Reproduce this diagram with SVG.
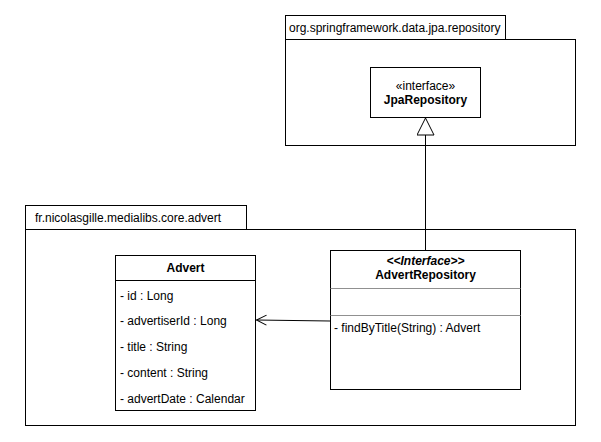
<svg xmlns="http://www.w3.org/2000/svg" width="601" height="442" viewBox="0 0 601 442">
<defs>
<style>
.box{fill:#fff;stroke:#000;stroke-width:1}
.sep{stroke:#909090;stroke-width:1;fill:none}
.t{font-family:"Liberation Sans",Arial,sans-serif;font-size:12px;fill:#000}
.b{font-weight:bold}
.c{text-anchor:middle}
.edge{stroke:#000;stroke-width:1;fill:none}
</style>
<marker id="open" markerWidth="12" markerHeight="12" refX="11" refY="6" orient="auto" markerUnits="userSpaceOnUse">
<path d="M1,1 L11,6 L1,11" fill="none" stroke="#000" stroke-width="1"/>
</marker>
<marker id="tri" markerWidth="20" markerHeight="20" refX="18" refY="9" orient="auto" markerUnits="userSpaceOnUse">
<path d="M18,9 L1,0.5 L1,17.5 Z" fill="#fff" stroke="#000" stroke-width="1"/>
</marker>
</defs>
<rect width="601" height="442" fill="#fff"/>
<g id="pkg-jpa">
<rect class="box" x="285.5" y="15.5" width="220" height="24"/>
<rect class="box" x="285.5" y="39.5" width="290" height="106"/>
<text class="t" x="289" y="31.5">org.springframework.data.jpa.repository</text>
</g>
<g id="pkg-advert">
<rect class="box" x="25.5" y="205.5" width="221" height="24"/>
<rect class="box" x="25.5" y="229.5" width="550" height="196"/>
<text class="t" x="35" y="221.5">fr.nicolasgille.medialibs.core.advert</text>
</g>
<g id="JpaRepository">
<rect class="box" x="370.5" y="67.5" width="110" height="50"/>
<text class="t c" x="425.5" y="90">«interface»</text>
<text class="t c b" x="425.5" y="104">JpaRepository</text>
</g>
<g id="Advert">
<rect class="box" x="115.5" y="255.5" width="140" height="155"/>
<line class="edge" x1="115.5" y1="280.5" x2="255.5" y2="280.5"/>
<text class="t c b" x="185.5" y="272">Advert</text>
<text class="t" x="120" y="300">- id : Long</text>
<text class="t" x="120" y="325">- advertiserId : Long</text>
<text class="t" x="120" y="351">- title : String</text>
<text class="t" x="120" y="377">- content : String</text>
<text class="t" x="120" y="403">- advertDate : Calendar</text>
</g>
<g id="AdvertRepository">
<rect class="box" x="330.5" y="250.5" width="190" height="139"/>
<line class="sep" x1="330.5" y1="288.5" x2="520.5" y2="288.5"/>
<line class="sep" x1="330.5" y1="315.5" x2="520.5" y2="315.5"/>
<text class="t c b" x="425.5" y="265" font-style="italic">&lt;&lt;Interface&gt;&gt;</text>
<text class="t c b" x="425.5" y="279">AdvertRepository</text>
<text class="t" x="334" y="332">- findByTitle(String) : Advert</text>
</g>
<g id="connectors">
<path class="edge" d="M425.5,250 L425.5,118" marker-end="url(#tri)"/>
<path class="edge" d="M330,321 L256.5,320" marker-end="url(#open)"/>
</g>
</svg>
